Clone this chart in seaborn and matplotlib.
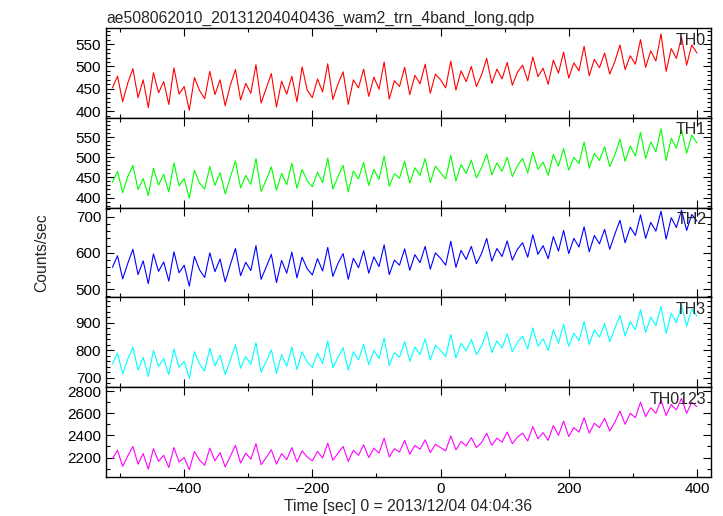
import seaborn as sns
import matplotlib.pyplot as plt
import numpy as np
from matplotlib.ticker import MultipleLocator

# time bins (sec), 8 s steps from -512 to 400
time = np.arange(-512, 401, 8)

th0 = [452, 478, 421, 463, 495, 430, 470, 408, 486, 441,
       466, 415, 497, 438, 455, 402, 475, 446, 428, 489,
       437, 470, 412, 458, 493, 425, 462, 440, 504, 418,
       451, 484, 409, 467, 438, 478, 421, 499, 447, 430,
       472, 443, 506, 426, 461, 488, 415, 470, 452, 494,
       433, 476, 449, 510, 427, 468, 455, 498, 437, 480,
       461, 505, 440, 483, 470, 452, 512, 447, 490, 466,
       500, 455, 481, 518, 462, 494, 472, 509, 458, 487,
       503, 468, 521, 477, 496, 460, 514, 485, 532, 474,
       508, 490, 545, 479, 516, 497, 530, 483, 511, 548,
       493, 524, 505, 560, 498, 535, 512, 573, 489, 540,
       518, 566, 503, 548, 530]

th1 = [438, 465, 412, 452, 480, 420, 447, 405, 473, 431,
       458, 414, 486, 429, 447, 398, 468, 436, 421, 477,
       430, 462, 409, 450, 491, 424, 455, 433, 497, 415,
       444, 476, 418, 460, 432, 485, 423, 470, 441, 427,
       463, 437, 498, 421, 452, 480, 414, 466, 446, 487,
       430, 470, 445, 503, 428, 459, 448, 490, 436, 474,
       455, 497, 437, 478, 462, 446, 505, 441, 482, 460,
       493, 449, 474, 508, 456, 486, 465, 500, 452, 479,
       497, 461, 513, 470, 488, 455, 507, 478, 522, 468,
       500, 484, 538, 473, 510, 492, 526, 477, 506, 545,
       490, 528, 503, 562, 497, 538, 514, 571, 492, 547,
       523, 568, 510, 555, 536]

th2 = [560, 592, 528, 571, 610, 540, 578, 515, 597, 549,
       575, 522, 603, 545, 566, 508, 590, 553, 532, 600,
       548, 583, 520, 567, 612, 537, 574, 551, 620, 527,
       561, 596, 518, 579, 544, 602, 531, 588, 556, 539,
       584, 550, 615, 535, 571, 598, 527, 585, 559, 606,
       544, 589, 562, 622, 540, 580, 566, 611, 552, 595,
       573, 618, 555, 600, 585, 566, 632, 560, 607, 582,
       618, 570, 598, 640, 577, 612, 590, 633, 580, 610,
       628, 588, 650, 596, 620, 584, 645, 605, 662, 598,
       640, 616, 672, 603, 648, 625, 665, 610, 652, 690,
       628, 671, 648, 705, 640, 684, 660, 715, 638, 697,
       670, 718, 662, 706, 688]

th3 = [750, 790, 715, 768, 812, 728, 775, 705, 800, 742,
       770, 712, 805, 738, 760, 698, 795, 750, 725, 808,
       744, 783, 712, 765, 820, 735, 778, 748, 828, 720,
       760, 802, 716, 785, 742, 812, 730, 795, 757, 738,
       790, 752, 835, 736, 775, 810, 728, 795, 765, 822,
       748, 800, 770, 845, 745, 792, 775, 832, 760, 812,
       785, 842, 765, 818, 800, 778, 858, 772, 826, 798,
       840, 785, 815, 868, 792, 835, 808, 860, 795, 830,
       852, 805, 882, 815, 842, 800, 875, 826, 895, 815,
       862, 835, 905, 822, 875, 848, 898, 832, 880, 928,
       852, 905, 875, 948, 865, 922, 890, 960, 862, 935,
       900, 965, 888, 950, 925]

th0123 = [2190, 2265, 2120, 2215, 2300, 2140, 2235, 2095, 2280, 2165,
          2220, 2110, 2290, 2160, 2200, 2090, 2255, 2175, 2130, 2285,
          2170, 2245, 2115, 2210, 2310, 2150, 2240, 2185, 2325, 2135,
          2200, 2270, 2140, 2235, 2180, 2290, 2160, 2260, 2205, 2170,
          2255, 2195, 2330, 2175, 2240, 2300, 2165, 2265, 2220, 2315,
          2200, 2285, 2240, 2375, 2205, 2280, 2250, 2355, 2230, 2310,
          2275, 2360, 2245, 2320, 2290, 2260, 2395, 2270, 2345, 2305,
          2380, 2290, 2335, 2420, 2310, 2375, 2340, 2430, 2325, 2385,
          2420, 2350, 2480, 2370, 2425, 2355, 2490, 2400, 2530, 2390,
          2470, 2430, 2560, 2420, 2510, 2470, 2555, 2440, 2520, 2620,
          2500, 2600, 2560, 2700, 2570, 2650, 2600, 2720, 2580, 2680,
          2630, 2735, 2600, 2700, 2660]

names = ["TH0", "TH1", "TH2", "TH3", "TH0123"]
series = [th0, th1, th2, th3, th0123]
colors = ["#ff0000", "#00ff00", "#0000ff", "#00ffff", "#ff00ff"]
ylims = [(385, 586), (375, 598), (477, 725), (666, 993), (2024, 2836)]
majors = [50, 50, 100, 100, 200]
minors = [10, 10, 20, 20, 100]

sns.set_style("ticks")
plt.rcParams['font.family'] = ['Liberation Sans', 'DejaVu Sans']

fig, axes = plt.subplots(5, 1, sharex=True, figsize=(7.23, 5.16), dpi=100)
fig.subplots_adjust(left=0.1466, right=0.9834, top=0.9457, bottom=0.0756, hspace=0)

for ax, name, vals, c, yl, mj, mn in zip(axes, names, series, colors, ylims, majors, minors):
    sns.lineplot(x=time, y=vals, ax=ax, color=c, lw=0.8, estimator=None)
    ax.set_ylim(*yl)
    ax.set_xlim(-522, 422)
    ax.yaxis.set_major_locator(MultipleLocator(mj))
    ax.yaxis.set_minor_locator(MultipleLocator(mn))
    ax.xaxis.set_major_locator(MultipleLocator(200))
    ax.xaxis.set_minor_locator(MultipleLocator(100))
    ax.tick_params(which="both", direction="in", top=True, right=True, labelsize=11,
                   width=0.8, color="black", labelcolor="black")
    ax.tick_params(which="major", length=6)
    ax.tick_params(which="minor", length=3)
    for s in ax.spines.values():
        s.set_linewidth(1.0)
        s.set_color("black")
    ax.text(0.992, 0.95, name, transform=ax.transAxes, ha="right", va="top", fontsize=11.5)
    ax.set_ylabel("")

axes[0].set_title("ae508062010_20131204040436_wam2_trn_4band_long.qdp", loc="left", fontsize=11.3, pad=4)
axes[-1].set_xlabel("Time [sec] 0 = 2013/12/04 04:04:36", fontsize=11.3, labelpad=2)
fig.text(0.058, 0.51, "Counts/sec", rotation=90, ha="center", va="center", fontsize=11.3)

fig.savefig("out.png", dpi=100)
